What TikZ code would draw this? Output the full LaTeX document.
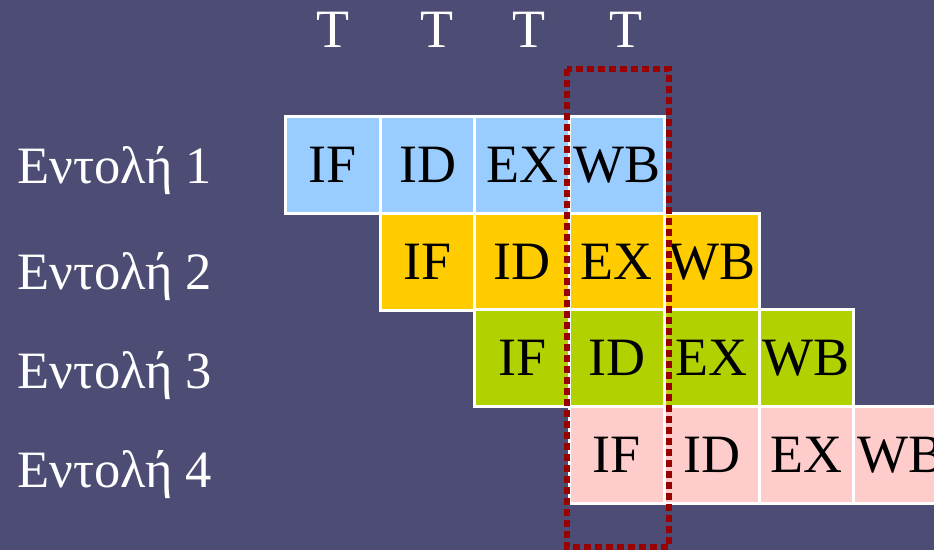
\documentclass[tikz,border=0pt]{standalone}
\usepackage{fontspec}
\setmainfont{Liberation Serif}
\definecolor{bgc}{HTML}{4C4C75}
\definecolor{cblue}{HTML}{99CCFF}
\definecolor{corange}{HTML}{FFCC00}
\definecolor{cgreen}{HTML}{B2D100}
\definecolor{cpink}{HTML}{FFCCCC}
\definecolor{cred}{HTML}{990000}
\begin{document}
\begin{tikzpicture}[x=1bp,y=-1bp,
  cell/.style={draw=white, line width=3bp, minimum width=94.7bp, minimum height=96.5bp,
    inner sep=0pt, font=\fontsize{54bp}{60bp}\selectfont, text=black},
  lbl/.style={anchor=base west, inner sep=0pt, text=white, font=\fontsize{52.5bp}{60bp}\selectfont},
  tlbl/.style={anchor=base, inner sep=0pt, text=white, font=\fontsize{54bp}{60bp}\selectfont},
  hilite/.style={draw=cred, line width=6bp, dash pattern=on 7bp off 4bp}]
\fill[bgc] (0,0) rectangle (934,550);
\useasboundingbox (0,0) rectangle (934,550);
\foreach \r/\c in {1/cblue,2/corange,3/cgreen,4/cpink}{
  \foreach \k/\t in {0/IF,1/ID,2/EX,3/WB}{
    \node[cell, fill=\c] (c\r\k) at ({285.5+94.7*(\r-1+\k)+47.35},{117+96.5*(\r-1)+48.25}) {\t};
  }
}
\node[lbl] (l1) at (17,184) {Εντολή 1};
\node[lbl] (l2) at (17,290) {Εντολή 2};
\node[lbl] (l3) at (17,388) {Εντολή 3};
\node[lbl] (l4) at (17,487) {Εντολή 4};
\node[tlbl] (t1) at (333,48) {T};
\node[tlbl] (t2) at (437,48) {T};
\node[tlbl] (t3) at (529,48) {T};
\node[tlbl] (t4) at (626,48) {T};
\draw[hilite] (567,69) rectangle (669,547);
\end{tikzpicture}
\end{document}
